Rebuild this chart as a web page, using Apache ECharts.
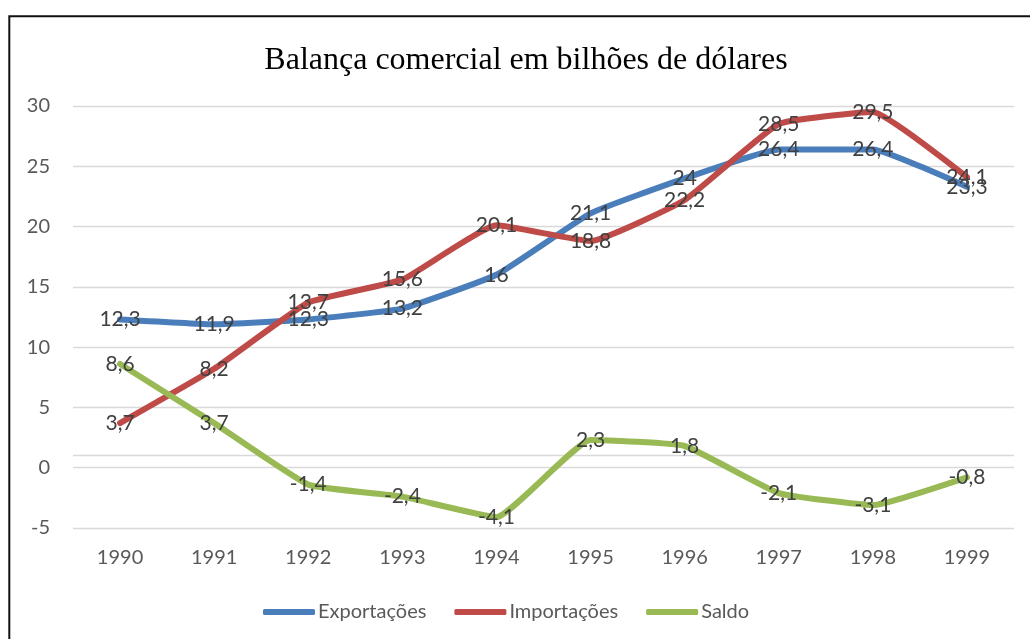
<!DOCTYPE html>
<html>
<head>
<meta charset="utf-8">
<script src="https://cdn.jsdelivr.net/npm/echarts@6/dist/echarts.min.js"></script>
<style>
  html, body { margin: 0; padding: 0; background: #fff; }
  #chart { width: 1030px; height: 639px; }
</style>
</head>
<body>
<div id="chart"></div>
<script>
const titleText = 'Balança comercial em bilhões de dólares';
const years = ['1990', '1991', '1992', '1993', '1994', '1995', '1996', '1997', '1998', '1999'];
const exportacoes = [12.3, 11.9, 12.3, 13.2, 16, 21.1, 24, 26.4, 26.4, 23.3];
const importacoes = [3.7, 8.2, 13.7, 15.6, 20.1, 18.8, 22.2, 28.5, 29.5, 24.1];
const saldo = [8.6, 3.7, -1.4, -2.4, -4.1, 2.3, 1.8, -2.1, -3.1, -0.8];
const seriesNames = ['Exportações', 'Importações', 'Saldo'];
const colors = ['#4A7EBB', '#BE4B48', '#98B954'];

const FONT = 'Lato, "Open Sans", sans-serif';
const fmt = p => String(p.value).replace('.', ',');

function makeSeries(name, data, color, extra) {
  return Object.assign({
    name: name,
    type: 'line',
    data: data,
    smooth: 0.12,
    symbol: 'circle',
    symbolSize: 1,
    showSymbol: true,
    color: color,
    itemStyle: { color: color },
    lineStyle: { width: 6, color: color, cap: 'round', join: 'round' },
    label: {
      show: true,
      position: 'inside',
      offset: [0, 2],
      formatter: fmt,
      color: '#404040',
      fontFamily: FONT,
      fontSize: 21
    },
    labelLayout: { hideOverlap: false },
    emphasis: { disabled: true }
  }, extra || {});
}

const chart = echarts.init(document.getElementById('chart'), null, { renderer: 'canvas' });
chart.setOption({
  animation: false,
  backgroundColor: '#fff',
  title: {
    text: titleText,
    left: 521,
    textAlign: 'center',
    top: 40,
    textStyle: { fontFamily: '"Liberation Serif", "Times New Roman", serif', fontSize: 32, fontWeight: 'normal', color: '#000' }
  },
  graphic: [{
    type: 'rect',
    shape: { x: 9.3, y: 16.3, width: 1100, height: 800 },
    style: { fill: null, stroke: '#111', lineWidth: 2 },
    silent: true
  }],
  legend: {
    data: seriesNames,
    left: 263,
    top: 602,
    padding: 0,
    icon: 'roundRect',
    itemWidth: 52,
    itemHeight: 6,
    itemGap: 28,
    textStyle: { fontFamily: FONT, fontSize: 20, color: '#595959', padding: [0, 0, 0, -2] }
  },
  grid: { left: 73, right: 16, top: 106, bottom: 111, containLabel: false },
  xAxis: {
    type: 'category',
    data: years,
    boundaryGap: true,
    axisLine: { show: false },
    axisTick: { show: false },
    axisLabel: { color: '#595959', fontFamily: FONT, fontSize: 20, margin: 20 },
    splitLine: { show: false }
  },
  yAxis: {
    type: 'value',
    min: -5,
    max: 30,
    interval: 5,
    axisLine: { show: false },
    axisTick: { show: false },
    axisLabel: { color: '#595959', fontFamily: FONT, fontSize: 20, margin: 23 },
    splitLine: { lineStyle: { color: '#d9d9d9', width: 1.3 } }
  },
  series: [
    makeSeries(seriesNames[0], exportacoes, colors[0], {
      markLine: {
        silent: true,
        symbol: 'none',
        label: { show: false },
        lineStyle: { color: '#d9d9d9', width: 1.3, type: 'solid' },
        data: [{ yAxis: 1 }],
        z: 0
      }
    }),
    makeSeries(seriesNames[1], importacoes, colors[1]),
    makeSeries(seriesNames[2], saldo, colors[2])
  ]
});
</script>
</body>
</html>
